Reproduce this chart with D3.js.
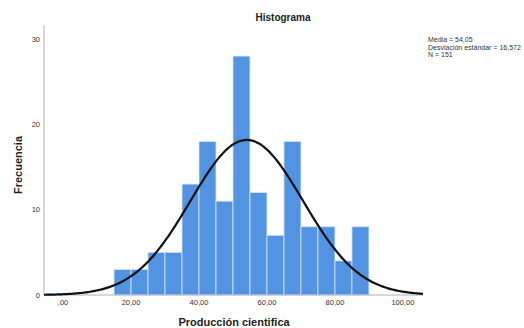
<!DOCTYPE html>
<html>
<head>
<meta charset="utf-8">
<script src="https://cdn.jsdelivr.net/npm/d3@7"></script>
<style>
  body { margin: 0; background: #fff; }
  text { font-family: "Liberation Sans", Arial, sans-serif; }
</style>
</head>
<body>
<svg id="drawing_region"></svg>
<script>
// bins of width 5, from 15 to 90
const binStarts = [15, 20, 25, 30, 35, 40, 45, 50, 55, 60, 65, 70, 75, 80, 85];
const counts = [3, 3, 5, 5, 13, 18, 11, 28, 12, 7, 18, 8, 8, 4, 8];
const binWidth = 5;
const xTicks = [0, 20, 40, 60, 80, 100];
const yTicks = [0, 10, 20, 30];
const mean = 54.05;
const sd = 16.572;
const n = 151;
const statLines = ["Media = 54,05", "Desviación estándar = 16,572", "N = 151"];

const config = {
    width: 524,
    height: 328,
    margin: { top: 25, right: 101, bottom: 33, left: 44 }
};

const svg = d3.select('#drawing_region')
    .attr('width', config.width)
    .attr('height', config.height);

const left = config.margin.left;
const right = config.width - config.margin.right;
const bottom = config.height - config.margin.bottom;

const xscale = d3.scaleLinear()
    .domain([-5.6, 105.9])
    .range([left, right]);

const yscale = d3.scaleLinear()
    .domain([0, 30])
    .range([295, 39]);

// bars
svg.append('g')
    .selectAll('rect')
    .data(binStarts)
    .join('rect')
    .attr('x', d => xscale(d))
    .attr('y', (d, i) => yscale(counts[i]))
    .attr('width', d => xscale(d + binWidth) - xscale(d))
    .attr('height', (d, i) => yscale(0) - yscale(counts[i]))
    .attr('fill', '#5294e2')
    .attr('stroke', '#d8e6f8')
    .attr('stroke-width', 0.8);

// axes lines
svg.append('line')
    .attr('x1', left).attr('x2', left)
    .attr('y1', config.margin.top).attr('y2', yscale(0))
    .attr('stroke', '#b0b0b0').attr('stroke-width', 1);
svg.append('line')
    .attr('x1', left).attr('x2', right)
    .attr('y1', yscale(0)).attr('y2', yscale(0))
    .attr('stroke', '#b0b0b0').attr('stroke-width', 1);

// normal curve
const xs = d3.range(-5.6, 105.9, 0.5).concat([105.9]);
const line = d3.line()
    .x(d => xscale(d))
    .y(d => yscale(n * binWidth * Math.exp(-0.5 * ((d - mean) / sd) ** 2) / (sd * Math.sqrt(2 * Math.PI))))
    .curve(d3.curveBasis);
svg.append('path')
    .attr('d', line(xs))
    .attr('fill', 'none')
    .attr('stroke', '#111')
    .attr('stroke-width', 2.2);

// tick labels
const fmt = v => (v === 0 ? ',00' : v + ',00');
svg.append('g')
    .selectAll('text')
    .data(xTicks)
    .join('text')
    .attr('x', d => xscale(d))
    .attr('y', 305)
    .attr('text-anchor', 'middle')
    .attr('font-size', '7.5px')
    .attr('fill', '#333')
    .text(fmt);

svg.append('g')
    .selectAll('text')
    .data(yTicks)
    .join('text')
    .attr('x', 40)
    .attr('y', d => yscale(d) + 2.5)
    .attr('text-anchor', 'end')
    .attr('font-size', '7.5px')
    .attr('fill', '#333')
    .text(d => d);

// titles
svg.append('text')
    .attr('x', 283).attr('y', 21)
    .attr('text-anchor', 'middle')
    .attr('font-size', '10px')
    .attr('font-weight', 'bold')
    .attr('fill', '#222')
    .text('Histograma');

svg.append('text')
    .attr('x', 234).attr('y', 326)
    .attr('text-anchor', 'middle')
    .attr('font-size', '11px')
    .attr('font-weight', 'bold')
    .attr('fill', '#222')
    .text('Producción cientifica');

svg.append('text')
    .attr('transform', 'translate(22,165) rotate(-90)')
    .attr('text-anchor', 'middle')
    .attr('font-size', '11px')
    .attr('font-weight', 'bold')
    .attr('fill', '#222')
    .text('Frecuencia');

// stats
svg.append('g')
    .selectAll('text')
    .data(statLines)
    .join('text')
    .attr('x', 428)
    .attr('y', (d, i) => 42 + i * 7.5)
    .attr('font-size', '7px')
    .attr('fill', '#333')
    .text(d => d);
</script>
</body>
</html>
